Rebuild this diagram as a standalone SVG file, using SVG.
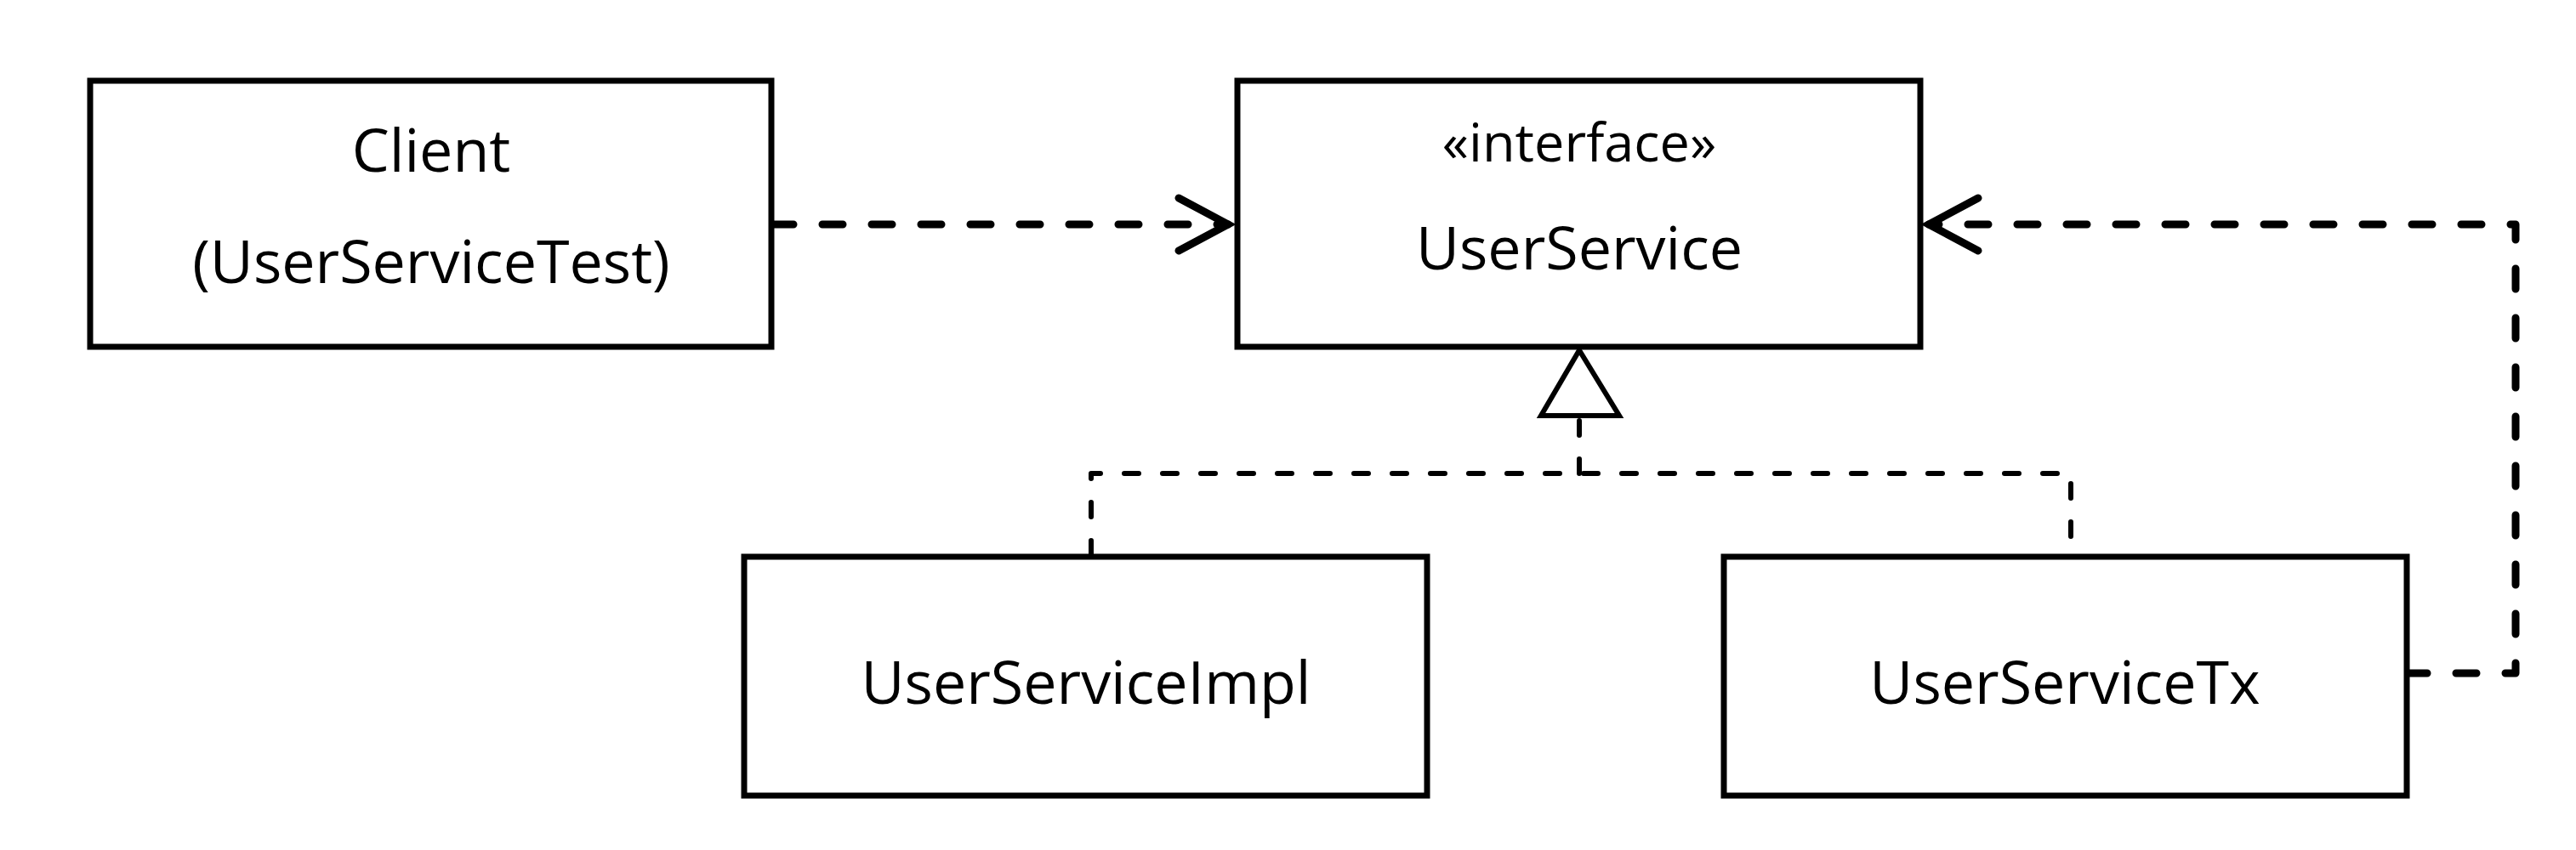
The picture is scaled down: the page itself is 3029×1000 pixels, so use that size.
<svg xmlns="http://www.w3.org/2000/svg" width="3029" height="1000" viewBox="0 0 3029 1000">
  <style>
    .box { fill: #ffffff; stroke: #000000; stroke-width: 7; }
    .lbl { font-family: "Open Sans", "Noto Sans", "Liberation Sans", sans-serif; font-size: 70px; fill: #000000; text-anchor: middle; }
    .stereo { font-size: 63px; }
    .dep { fill: none; stroke: #000000; stroke-width: 9; stroke-linecap: round; stroke-linejoin: round; stroke-dasharray: 24 34; }
    .real { fill: none; stroke: #000000; stroke-width: 6; stroke-linecap: round; stroke-linejoin: round; stroke-dasharray: 17 28; }
    .head { fill: none; stroke: #000000; stroke-width: 9; stroke-linecap: round; stroke-linejoin: miter; stroke-dasharray: none; }
    .tri { fill: #ffffff; stroke: #000000; stroke-width: 6; stroke-linejoin: miter; }
  </style>
  <defs>
    <marker id="open" markerUnits="userSpaceOnUse" markerWidth="80" markerHeight="80" viewBox="-70 -40 80 80" refX="0" refY="0" orient="auto">
      <path class="head" d="M-58,-31 L0,0 L-58,31"/>
    </marker>
  </defs>
  <rect width="3029" height="1000" fill="#ffffff"/>

  <g id="connectors">
    <path id="client-to-userservice" class="dep" d="M909,264 H1444" marker-end="url(#open)"/>
    <path id="tx-to-userservice" class="dep" d="M2830,792 H2958 V264 H2268" marker-end="url(#open)"/>
    <path id="impl-realization" class="real" d="M1283,653 V557 H2435 V653"/>
    <path id="realization-stem" class="real" d="M1857,557 V492"/>
    <polygon id="realization-head" class="tri" points="1857,412 1812,489 1904,489"/>
  </g>

  <g id="client">
    <rect class="box" x="106" y="95" width="801" height="313"/>
    <text class="lbl" x="507" y="202">Client</text>
    <text class="lbl" x="507" y="333">(UserServiceTest)</text>
  </g>

  <g id="userservice">
    <rect class="box" x="1455" y="95" width="803" height="313"/>
    <text class="lbl stereo" x="1857" y="190">«interface»</text>
    <text class="lbl" x="1857" y="317">UserService</text>
  </g>

  <g id="userserviceimpl">
    <rect class="box" x="875" y="655" width="803" height="281"/>
    <text class="lbl" x="1277" y="828">UserServiceImpl</text>
  </g>

  <g id="userservicetx">
    <rect class="box" x="2027" y="655" width="803" height="281"/>
    <text class="lbl" x="2428" y="828">UserServiceTx</text>
  </g>
</svg>
